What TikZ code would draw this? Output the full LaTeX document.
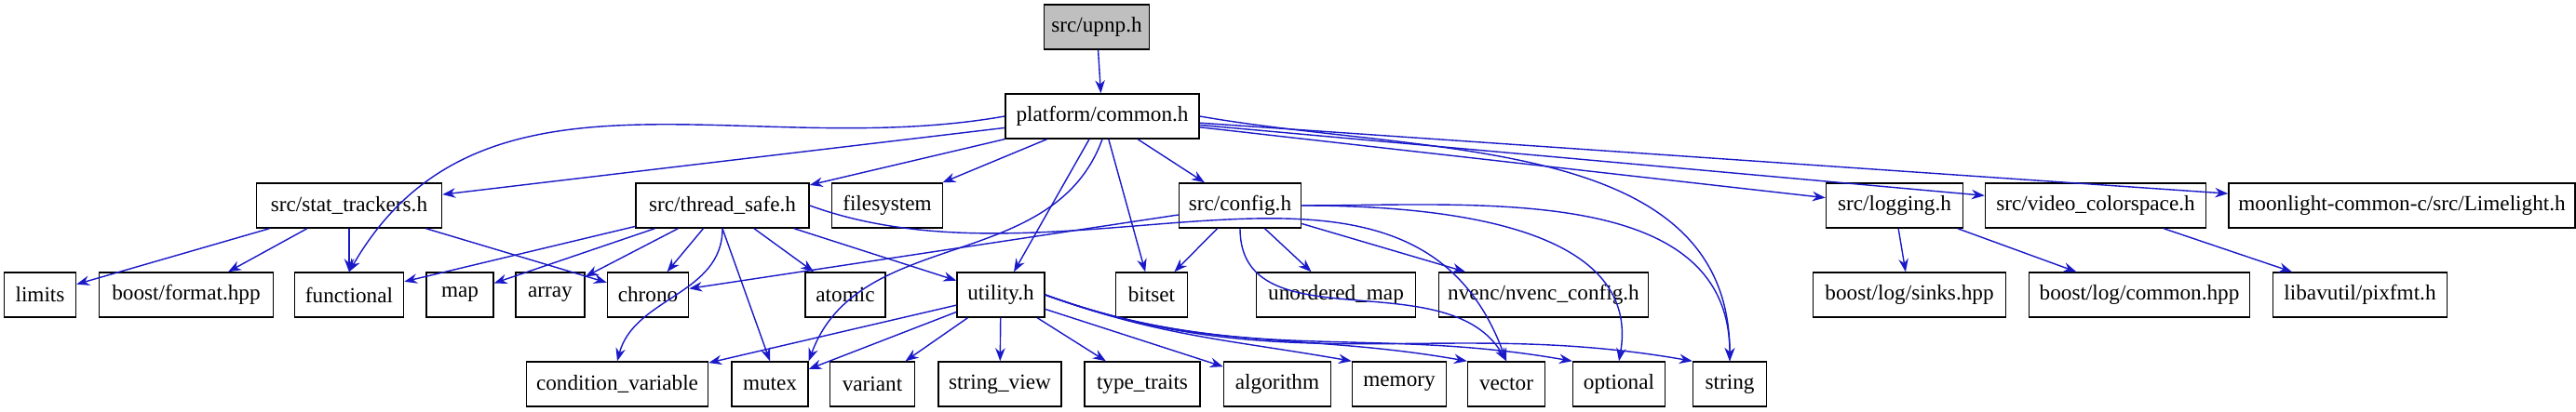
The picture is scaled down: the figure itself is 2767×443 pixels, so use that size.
\documentclass[tikz,border=0pt]{standalone}
\usepackage{fontspec}
\setmainfont{Liberation Serif}
\usetikzlibrary{arrows.meta}
\tikzset{
  file/.style={draw, fill=white, minimum height=0.48cm, inner xsep=0.05cm, font=\fontsize{6.6}{7}\selectfont},
  w/.style={minimum width=#1*0.1mm},
  inc/.style={-{Stealth[length=0.14cm]}, draw={rgb,255:red,25;green,25;blue,200}}
}
\begin{document}
\begin{tikzpicture}[x=0.01cm,y=-0.01cm]
\useasboundingbox (0,0) rectangle (2767,443);

% top
\node[file, w=113, fill=black!25] (upnp) at (1178,29) {src/upnp.h};
\node[file, w=208] (common) at (1184,125) {platform/common.h};

% third row
\node[file, w=199] (stat) at (375,221) {src/stat\_trackers.h};
\node[file, w=186] (thread) at (776,221) {src/thread\_safe.h};
\node[file, w=119] (filesystem) at (953,221) {filesystem};
\node[file, w=131] (config) at (1332,221) {src/config.h};
\node[file, w=147] (logging) at (2035,221) {src/logging.h};
\node[file, w=237] (video) at (2251,221) {src/video\_colorspace.h};
\node[file, w=372] (lime) at (2580,221) {moonlight-common-c/src/Limelight.h};

% fourth row
\node[file, w=77] (limits) at (43,317) {limits};
\node[file, w=187] (format) at (200,317) {boost/format.hpp};
\node[file, w=117] (functional) at (375,317) {functional};
\node[file, w=72] (map) at (494,317) {map};
\node[file, w=74] (array) at (591,317) {array};
\node[file, w=87] (chrono) at (696,317) {chrono};
\node[file, w=86] (atomic) at (908,317) {atomic};
\node[file, w=94] (utility) at (1075,317) {utility.h};
\node[file, w=77] (bitset) at (1237,317) {bitset};
\node[file, w=171] (unordered) at (1435,317) {unordered\_map};
\node[file, w=225] (nvenc) at (1658,317) {nvenc/nvenc\_config.h};
\node[file, w=207] (sinks) at (2051,317) {boost/log/sinks.hpp};
\node[file, w=237] (logcommon) at (2298,317) {boost/log/common.hpp};
\node[file, w=187] (pixfmt) at (2535,317) {libavutil/pixfmt.h};

% bottom row
\node[file, w=195] (condvar) at (663,413) {condition\_variable};
\node[file, w=82] (mutex) at (827,413) {mutex};
\node[file, w=91] (variant) at (937,413) {variant};
\node[file, w=132] (strview) at (1074,413) {string\_view};
\node[file, w=124] (traits) at (1227,413) {type\_traits};
\node[file, w=115] (algorithm) at (1372,413) {algorithm};
\node[file, w=101] (memory) at (1503,413) {memory};
\node[file, w=83] (vector) at (1618,413) {vector};
\node[file, w=99] (optional) at (1739,413) {optional};
\node[file, w=79] (string) at (1858,413) {string};

% includes
\draw[inc] (upnp) -- (common);
\foreach \t in {stat,thread,filesystem,config,logging,video,lime,utility,bitset}
  \draw[inc] (common) -- (\t);
\draw[inc] (common.west) to[out=190,in=60] (functional.north);
\draw[inc] (common.south) to[out=-110,in=70] (mutex.north east);
\draw[inc] (common.east) to[out=-10,in=90] (string.north);
\foreach \t in {limits,format,functional,chrono}
  \draw[inc] (stat) -- (\t);
\foreach \t in {functional,map,array,chrono,atomic,utility}
  \draw[inc] (thread) -- (\t);
\draw[inc] (thread.south) to[out=-90,in=75] (condvar.north);
\draw[inc] (thread.south) -- (mutex.north);
\draw[inc] (thread.east) to[out=-20,in=110] (vector.north);
\foreach \t in {chrono,bitset,unordered,nvenc}
  \draw[inc] (config) -- (\t);
\draw[inc] (config.south) to[out=-90,in=120] (vector.north);
\draw[inc] (config.east) to[out=0,in=80] (optional.north);
\draw[inc] (config.east) to[out=0,in=90] (string.north);
\foreach \t in {condvar,mutex,variant,strview,traits,algorithm}
  \draw[inc] (utility) -- (\t);
\foreach \t in {memory,vector,optional,string}
  \draw[inc] (utility.east) to[out=-20,in=170] (\t.north west);
\draw[inc] (logging) -- (sinks);
\draw[inc] (logging) -- (logcommon);
\draw[inc] (video) -- (pixfmt);
\end{tikzpicture}
\end{document}
